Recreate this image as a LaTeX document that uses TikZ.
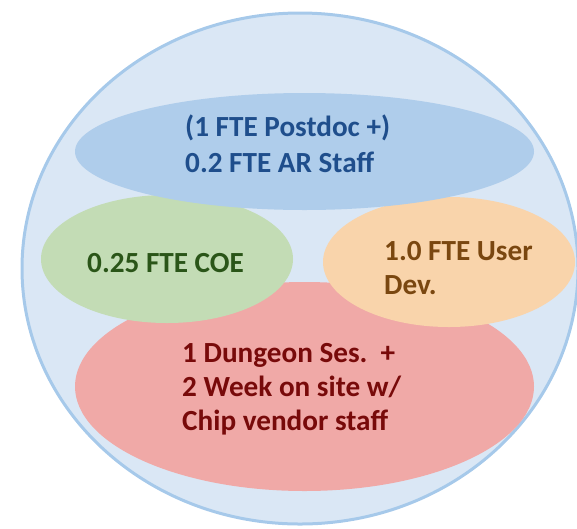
\documentclass[tikz,border=0pt]{standalone}
\usepackage{fontspec}
\setmainfont{Carlito}
\definecolor{outerfill}{HTML}{DAE7F5}
\definecolor{outerline}{HTML}{A6C9EA}
\definecolor{bluefill}{HTML}{AFCDEB}
\definecolor{greenfill}{HTML}{C3DCB5}
\definecolor{orangefill}{HTML}{F9D4AB}
\definecolor{redfill}{HTML}{F0A9A7}
\definecolor{bluetext}{HTML}{1F4E8C}
\definecolor{greentext}{HTML}{2A5518}
\definecolor{orangetext}{HTML}{7A4710}
\definecolor{redtext}{HTML}{780A0A}
\tikzset{
  lbl/.style={anchor=base west, inner sep=0pt, font=\fontsize{29.2}{35}\selectfont\bfseries}
}
\begin{document}
\begin{tikzpicture}[x=1pt,y=-1pt]
\useasboundingbox (0,0) rectangle (577,528);
% outer circle
\filldraw[fill=outerfill, draw=outerline, line width=3pt] (300,268.5) ellipse [x radius=278, y radius=255.5];
% red ellipse (bottom layer)
\fill[redfill] (304.5,386.5) ellipse [x radius=229.5, y radius=104.5];
% green and orange ellipses
\fill[greenfill] (167,259) ellipse [x radius=126, y radius=64];
\fill[orangefill] (449,262) ellipse [x radius=126, y radius=65];
% blue ellipse (top layer)
\fill[bluefill] (304.5,151.5) ellipse [x radius=229.5, y radius=58.5];
% texts
\node[lbl, text=bluetext] (b1) at (185,136) {(1 FTE Postdoc +)};
\node[lbl, text=bluetext] (b2) at (185,172) {0.2 FTE AR Staff};
\node[lbl, text=greentext] (g1) at (87,272) {0.25 FTE COE};
\node[lbl, text=orangetext] (o1) at (384,260) {1.0 FTE User};
\node[lbl, text=orangetext] (o2) at (384,294) {Dev.};
\node[lbl, text=redtext] (r1) at (182,362) {1 Dungeon Ses.\ \ +};
\node[lbl, text=redtext] (r2) at (182,396) {2 Week on site w/};
\node[lbl, text=redtext] (r3) at (182,430) {Chip vendor staff};
\end{tikzpicture}
\end{document}
